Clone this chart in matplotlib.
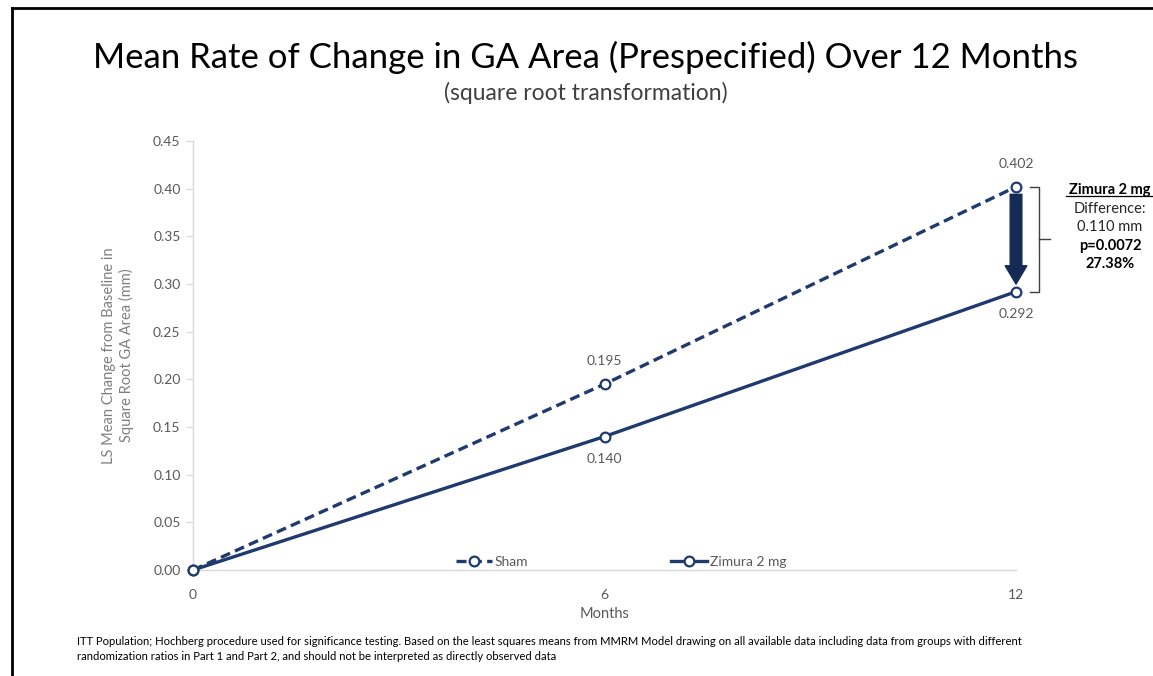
import matplotlib
matplotlib.use('Agg')
import matplotlib.pyplot as plt
from matplotlib.lines import Line2D

# data
months = [0, 6, 12]
sham = [0.0, 0.195, 0.402]
zimura = [0.0, 0.140, 0.292]
sham_labels = ['', '0.195', '0.402']
zimura_labels = ['', '0.140', '0.292']
yticks = [0.00, 0.05, 0.10, 0.15, 0.20, 0.25, 0.30, 0.35, 0.40, 0.45]

navy = '#1f3a6e'
grey = '#595959'
plt.rcParams['font.family'] = ['Lato', 'DejaVu Sans']

fig = plt.figure(figsize=(11.53, 6.76), dpi=100)
ax = fig.add_axes([0.1674, 0.1568, 0.7138, 0.6346])

# =============================================
# lines
# =============================================
ax.plot(months, sham, color=navy, lw=2.4, ls=(0, (3, 1.6)), marker='o',
        markersize=7, markerfacecolor='white', markeredgewidth=1.6,
        label='Sham', clip_on=False, zorder=3)
ax.plot(months, zimura, color=navy, lw=2.4, marker='o',
        markersize=7, markerfacecolor='white', markeredgewidth=1.6,
        label='Zimura 2 mg', clip_on=False, zorder=3)

for x, y, t in zip(months, sham, sham_labels):
    if t:
        ax.annotate(t, (x, y), xytext=(0, 12), textcoords='offset points',
                    ha='center', va='bottom', fontsize=10, color=grey)
for x, y, t in zip(months, zimura, zimura_labels):
    if t:
        ax.annotate(t, (x, y), xytext=(0, -12), textcoords='offset points',
                    ha='center', va='top', fontsize=10, color=grey)

# arrow + bracket
ax.annotate('', xy=(12, 0.297), xytext=(12, 0.397),
            arrowprops=dict(arrowstyle='simple,head_width=1.3,head_length=1.1,tail_width=0.7',
                            color='#152a55', mutation_scale=12), zorder=2)
bx0, bx1, bx2 = 12.2, 12.33, 12.5
ymid = (sham[2] + zimura[2]) / 2
kw = dict(color='#404040', lw=1.0, clip_on=False)
ax.plot([bx0, bx1, bx1, bx0], [sham[2], sham[2], zimura[2], zimura[2]], **kw)
ax.plot([bx1, bx2], [ymid, ymid], **kw)

tx = 13.37
ax.text(tx, 0.399, 'Zimura 2 mg', ha='center', va='center', fontsize=10.5,
        fontweight='bold', color='black', clip_on=False)
ax.plot([tx - 0.64, tx + 0.8], [0.3928, 0.3928], color='black', lw=0.9, clip_on=False)
ax.text(tx, 0.379, 'Difference:', ha='center', va='center', fontsize=10.5, color='#262626', clip_on=False)
ax.text(tx, 0.3595, '0.110 mm', ha='center', va='center', fontsize=10.5, color='#262626', clip_on=False)
ax.text(tx, 0.340, 'p=0.0072', ha='center', va='center', fontsize=10.5, fontweight='bold', color='black', clip_on=False)
ax.text(tx, 0.3205, '27.38%', ha='center', va='center', fontsize=10.5, fontweight='bold', color='black', clip_on=False)

# =============================================
# axes
# =============================================
ax.set_xlim(0, 12)
ax.set_ylim(0, 0.45)
ax.set_xticks(months)
ax.set_yticks(yticks)
ax.set_yticklabels([f'{v:.2f}' for v in yticks])
for s in ['top', 'right']:
    ax.spines[s].set_visible(False)
for s in ['left', 'bottom']:
    ax.spines[s].set_color('#d9d9d9')
    ax.spines[s].set_linewidth(1.0)
ax.tick_params(axis='y', length=5, color='#d9d9d9', labelsize=10, labelcolor=grey, pad=4)
ax.tick_params(axis='x', length=0, labelsize=10, labelcolor=grey, pad=14)
ax.set_xlabel('Months', fontsize=10.5, color=grey, labelpad=4)
ax.set_ylabel('LS Mean Change from Baseline in\nSquare Root GA Area (mm)', fontsize=10.5,
              color='#7f7f7f', labelpad=14)

ax.legend(loc='lower center', bbox_to_anchor=(0.52, -0.025), ncol=2, frameon=False,
          fontsize=10, labelcolor=grey, handlelength=2.6, handletextpad=0.2,
          columnspacing=10.3)

# titles
fig.text(0.508, 0.915, 'Mean Rate of Change in GA Area (Prespecified) Over 12 Months',
         ha='center', va='center', fontsize=25, color='black')
fig.text(0.508, 0.862, '(square root transformation)', ha='center', va='center',
         fontsize=16.5, color='#404040')

fig.text(0.067, 0.046, 'ITT Population; Hochberg procedure used for significance testing. Based on the least squares means from '
         'MMRM Model drawing on all available data including data from groups with different', fontsize=8.1, color='black')
fig.text(0.067, 0.024, 'randomization ratios in Part 1 and Part 2, and should not be interpreted as directly observed data',
         fontsize=8.1, color='black')

# border
fig.add_artist(Line2D([12 / 1153, 12 / 1153], [0, 1 - 8 / 676], color='black', lw=2, transform=fig.transFigure))
fig.add_artist(Line2D([12 / 1153, 1], [1 - 8 / 676, 1 - 8 / 676], color='black', lw=2, transform=fig.transFigure))

fig.savefig('out.png', dpi=100)
